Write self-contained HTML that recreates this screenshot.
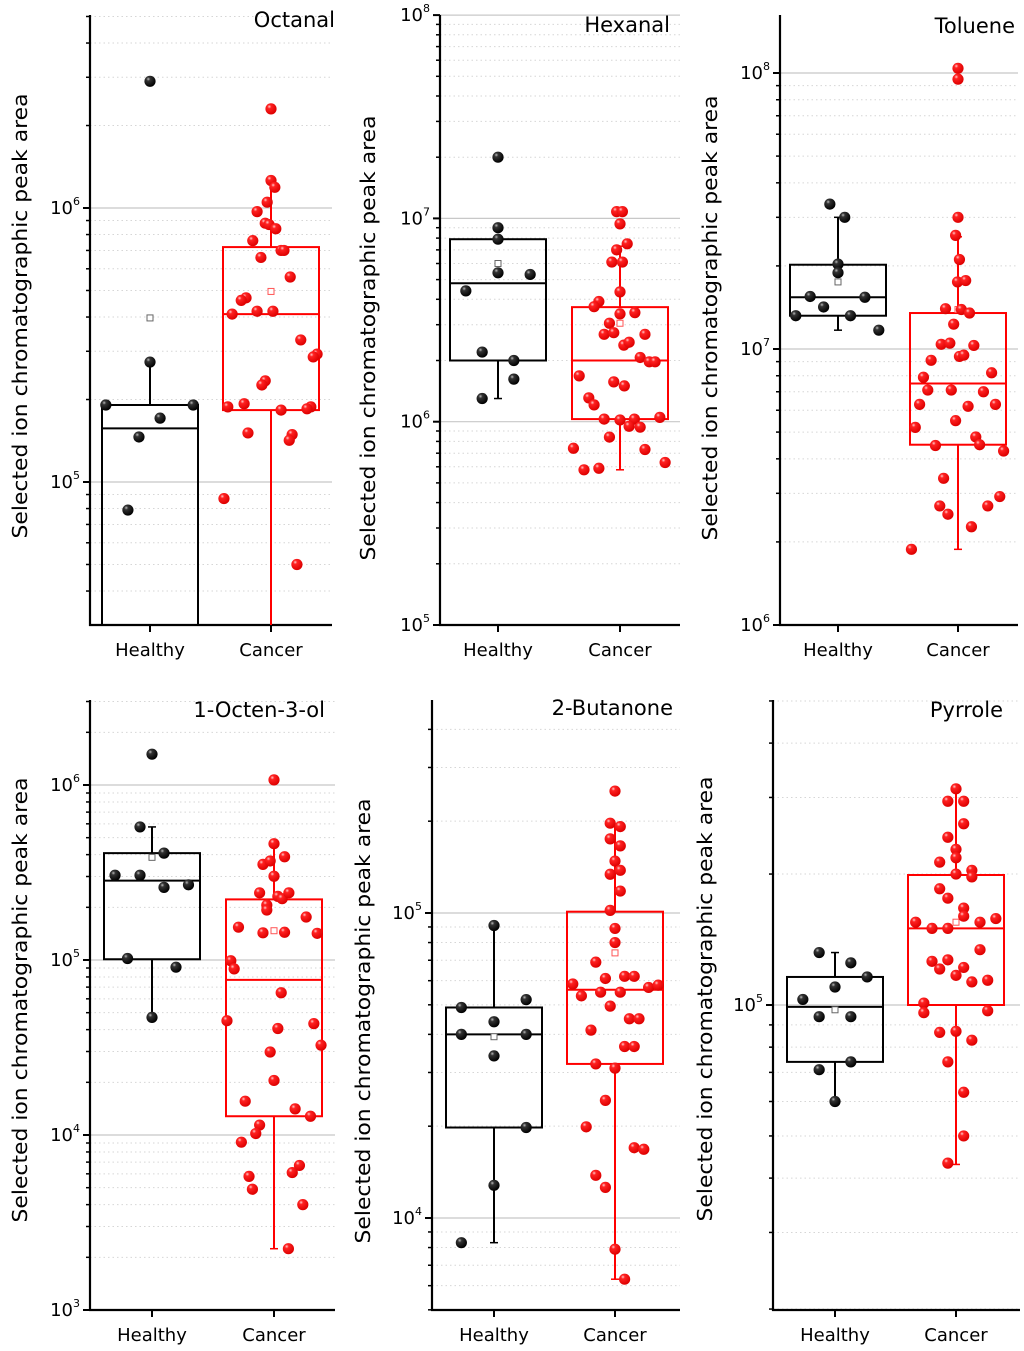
<!DOCTYPE html>
<html><head><meta charset="utf-8"><title>Selected ion chromatographic peak areas</title>
<style>
html,body{margin:0;padding:0;background:#fff;}
svg{display:block;font-family:"DejaVu Sans","Liberation Sans",sans-serif;}
</style></head>
<body>
<svg id="chart" width="1024" height="1351" viewBox="0 0 1024 1351" xmlns="http://www.w3.org/2000/svg">
<defs>
<radialGradient id="gBlack" cx="0.35" cy="0.3" r="0.7"><stop offset="0" stop-color="#bbb"/><stop offset="0.25" stop-color="#333"/><stop offset="1" stop-color="#000"/></radialGradient>
<radialGradient id="gRed" cx="0.35" cy="0.3" r="0.7"><stop offset="0" stop-color="#fcc"/><stop offset="0.25" stop-color="#f22"/><stop offset="1" stop-color="#d00"/></radialGradient>
</defs>
</svg>
<script>
// ---------- data (peak areas) ----------
const categories = ["Healthy", "Cancer"];
const panelTitles = ["Octanal", "Hexanal", "Toluene", "1-Octen-3-ol", "2-Butanone", "Pyrrole"];

// Octanal
const octanalHealthy = [2.9e6,2.74e5,1.91e5,1.91e5,1.71e5,1.46e5,7.9e4];
const octanalHealthyJitter = [0,0,-0.92,0.9,0.21,-0.23,-0.46];
const octanalCancer = [2.3e6,1.26e6,1.19e6,1.05e6,9.7e5,8.8e5,8.7e5,8.4e5,7.6e5,7.0e5,7.0e5,6.6e5,5.6e5,4.7e5,4.6e5,4.2e5,4.1e5,4.2e5,3.3e5,2.93e5,2.86e5,2.34e5,2.26e5,1.88e5,1.93e5,1.83e5,1.88e5,1.85e5,1.51e5,1.49e5,1.42e5,8.7e4,5.0e4];
const octanalCancerJitter = [0,0,.08,-.08,-.29,-.12,-.04,.1,-.38,.21,.27,-.21,.4,-.52,-.62,-.29,-.81,.04,.62,.96,.88,-.12,-.19,-.9,-.56,.21,.83,.75,-.48,.44,.38,-.98,.54];
// box stats: [whiskerLow, q1, median, q3, whiskerHigh, mean]
const octanalHealthyBox = [2.0e4,2.0e4,1.57e5,1.91e5,2.74e5,3.97e5];
const octanalCancerBox = [2.0e4,1.83e5,4.1e5,7.2e5,1.23e6,4.96e5];

// Hexanal
const hexanalHealthy = [2.0e7,9.0e6,7.9e6,5.4e6,5.3e6,4.4e6,2.2e6,2.0e6,1.62e6,1.30e6];
const hexanalHealthyJitter = [0,0,0,0,.67,-.67,-.33,.33,.33,-.33];
const hexanalCancer = [1.08e7,1.08e7,9.4e6,7.5e6,7.0e6,6.1e6,6.1e6,4.35e6,3.9e6,3.68e6,3.39e6,3.44e6,3.05e6,2.69e6,2.74e6,2.69e6,2.38e6,2.46e6,2.07e6,1.97e6,1.97e6,1.68e6,1.57e6,1.50e6,1.31e6,1.21e6,1.03e6,1.02e6,1.03e6,1.05e6,9.5e5,9.4e5,8.4e5,7.4e5,7.3e5,6.3e5,5.8e5,5.9e5];
const hexanalCancerJitter = [-.07,.05,0,.15,-.07,-.17,.05,0,-.44,-.54,0,.31,-.22,-.33,-.13,.52,.08,.19,.42,.61,.73,-.85,-.13,.09,-.65,-.54,-.33,0,.3,.83,.19,.42,-.22,-.97,.52,.94,-.75,-.44];
const hexanalHealthyBox = [1.30e6,2.0e6,4.8e6,7.9e6,7.9e6,6.0e6];
const hexanalCancerBox = [5.8e5,1.03e6,2.0e6,3.66e6,7.3e6,3.05e6];

// Toluene
const tolueneHealthy = [3.35e7,3.0e7,2.03e7,1.89e7,1.55e7,1.54e7,1.42e7,1.32e7,1.32e7,1.17e7];
const tolueneHealthyJitter = [-.17,.14,0,0,-.58,.56,-.3,-.88,.26,.85];
const tolueneCancer = [1.04e8,9.5e7,3.0e7,2.58e7,2.11e7,1.75e7,1.77e7,1.40e7,1.39e7,1.35e7,1.23e7,1.04e7,1.05e7,1.03e7,9.1e6,9.4e6,9.5e6,8.2e6,7.9e6,7.1e6,7.1e6,7.0e6,6.3e6,6.2e6,6.3e6,5.5e6,5.2e6,4.8e6,4.5e6,4.47e6,4.27e6,3.4e6,2.7e6,2.52e6,2.7e6,2.92e6,2.27e6,1.88e6];
const tolueneCancerJitter = [0,0,0,-.05,.03,-.01,.16,-.26,.07,.24,-.09,-.35,-.17,.33,-.56,.03,.12,.7,-.72,-.63,-.14,.53,-.8,.21,.78,-.05,-.89,.37,.45,-.47,.95,-.3,-.38,-.21,.62,.87,.28,-.97];
const tolueneHealthyBox = [1.17e7,1.32e7,1.54e7,2.02e7,3.0e7,1.75e7];
const tolueneCancerBox = [1.88e6,4.5e6,7.5e6,1.35e7,2.55e7,1.39e7];

// 1-Octen-3-ol
const octenolHealthy = [1.50e6,5.76e5,4.08e5,3.05e5,3.05e5,2.6e5,2.69e5,1.02e5,9.1e4,4.7e4];
const octenolHealthyJitter = [0,-.25,.25,-.77,-.25,.25,.76,-.51,.5,0];
const octenolCancer = [1.07e6,4.62e5,3.52e5,3.68e5,3.89e5,3.01e5,2.42e5,2.31e5,2.24e5,2.42e5,2.06e5,1.93e5,1.76e5,1.54e5,1.43e5,1.44e5,1.42e5,9.9e4,8.9e4,6.5e4,4.5e4,4.06e4,4.33e4,3.26e4,2.98e4,2.05e4,1.56e4,1.41e4,1.28e4,1.14e4,1.02e4,9.1e3,6.7e3,6.1e3,5.8e3,4.9e3,4.0e3,2.24e3];
const octenolCancerJitter = [0,0,-.23,-.08,.22,0,-.3,.08,.17,.31,-.15,-.15,.67,-.74,-.23,.22,.9,-.9,-.83,.15,-.98,.08,.83,.98,-.08,0,-.6,.44,.76,-.3,-.38,-.68,.53,.38,-.52,-.45,.6,.3];
const octenolHealthyBox = [4.7e4,1.01e5,2.84e5,4.08e5,5.76e5,3.86e5];
const octenolCancerBox = [2.24e3,1.28e4,7.7e4,2.22e5,4.62e5,1.47e5];

// 2-Butanone
const butanoneHealthy = [9.1e4,5.2e4,4.9e4,4.4e4,4.0e4,4.0e4,3.4e4,1.98e4,1.28e4,8.3e3];
const butanoneHealthyJitter = [0,.67,-.68,0,-.68,.67,0,.67,0,-.68];
const butanoneCancer = [2.51e5,1.97e5,1.92e5,1.75e5,1.66e5,1.48e5,1.34e5,1.38e5,1.18e5,1.02e5,8.9e4,8.0e4,6.9e4,6.1e4,6.2e4,6.2e4,5.85e4,5.35e4,5.5e4,5.5e4,5.7e4,5.8e4,4.95e4,4.5e4,4.5e4,4.13e4,3.65e4,3.65e4,3.2e4,3.1e4,2.43e4,1.99e4,1.70e4,1.68e4,1.38e4,1.26e4,7.9e3,6.3e3];
const butanoneCancerJitter = [0,-.1,.11,-.1,.11,0,-.1,.11,.11,-.1,0,0,-.4,-.2,.2,.4,-.88,-.7,-.3,.11,.7,.9,-.1,.3,.5,-.5,.2,.4,-.4,0,-.2,-.6,.4,.6,-.4,-.2,0,.2];
const butanoneHealthyBox = [8.3e3,1.98e4,4.0e4,4.9e4,9.1e4,3.93e4];
const butanoneCancerBox = [6.3e3,3.2e4,5.6e4,1.01e5,1.92e5,7.4e4];

// Pyrrole
const pyrroleHealthy = [1.32e5,1.25e5,1.16e5,1.10e5,1.03e5,9.4e4,9.4e4,7.4e4,7.1e4,6.0e4];
const pyrroleHealthyJitter = [-.33,.33,.67,0,-.67,-.33,.33,.33,-.33,0];
const pyrroleCancer = [3.14e5,2.94e5,2.94e5,2.61e5,2.43e5,2.28e5,2.18e5,2.13e5,2.0e5,2.04e5,1.97e5,1.85e5,1.76e5,1.67e5,1.60e5,1.55e5,1.50e5,1.50e5,1.55e5,1.58e5,1.34e5,1.26e5,1.27e5,1.21e5,1.22e5,1.17e5,1.13e5,1.14e5,1.01e5,9.6e4,9.7e4,8.65e4,8.7e4,8.3e4,7.4e4,6.3e4,5.0e4,4.33e4];
const pyrroleCancerJitter = [0,-.17,.16,.16,-.17,0,0,-.34,0,.33,.33,-.34,-.17,.16,.16,-.84,-.5,-.17,.5,.83,.5,-.5,-.17,-.34,.16,0,.33,.66,-.67,-.67,.66,-.34,0,.33,-.17,.16,.16,-.17];
const pyrroleHealthyBox = [6.0e4,7.4e4,9.9e4,1.16e5,1.32e5,9.75e4];
const pyrroleCancerBox = [4.3e4,1.0e5,1.5e5,1.99e5,3.14e5,1.55e5];

// ---------- layout (positions, not data) ----------
const layouts = [
 {ax:90, right:332, top:15, bottom:625, refY:208, refE:6, dec:274, cx:[150,271], ttx:335, tty:27, ytx:20, yty:316},
 {ax:440, right:680, top:15, bottom:625, refY:625, refE:5, dec:203.3, cx:[498,620], ttx:670, tty:32, ytx:368, yty:338},
 {ax:780, right:1018, top:15, bottom:625, refY:349, refE:7, dec:276, cx:[838,958], ttx:1015, tty:33, ytx:710, yty:318},
 {ax:90, right:335, top:700, bottom:1310, refY:785, refE:6, dec:175, cx:[152,274], ttx:325, tty:717, ytx:20, yty:1000},
 {ax:432, right:680, top:700, bottom:1310, refY:913, refE:5, dec:305, cx:[494,615], ttx:673, tty:715, ytx:363, yty:1021},
 {ax:773, right:1020, top:700, bottom:1310, refY:1005, refE:5, dec:435, cx:[835,956], ttx:1003, tty:717, ytx:705, yty:999}
];
const panelData = [
 [[octanalHealthy,octanalHealthyJitter,octanalHealthyBox],[octanalCancer,octanalCancerJitter,octanalCancerBox]],
 [[hexanalHealthy,hexanalHealthyJitter,hexanalHealthyBox],[hexanalCancer,hexanalCancerJitter,hexanalCancerBox]],
 [[tolueneHealthy,tolueneHealthyJitter,tolueneHealthyBox],[tolueneCancer,tolueneCancerJitter,tolueneCancerBox]],
 [[octenolHealthy,octenolHealthyJitter,octenolHealthyBox],[octenolCancer,octenolCancerJitter,octenolCancerBox]],
 [[butanoneHealthy,butanoneHealthyJitter,butanoneHealthyBox],[butanoneCancer,butanoneCancerJitter,butanoneCancerBox]],
 [[pyrroleHealthy,pyrroleHealthyJitter,pyrroleHealthyBox],[pyrroleCancer,pyrroleCancerJitter,pyrroleCancerBox]]
];

const NS = "http://www.w3.org/2000/svg";
const svg = document.getElementById("chart");
function mk(tag, attrs, parent){ const e=document.createElementNS(NS,tag); for(const k in attrs) e.setAttribute(k,attrs[k]); (parent||svg).appendChild(e); return e; }

layouts.forEach((L, p) => {
  const g = mk("g", {});
  
  
  const yOf = v => L.refY - (Math.log10(v) - L.refE) * L.dec;
  const eTop = L.refE + (L.refY - L.top) / L.dec;
  const eBot = L.refE - (L.bottom - L.refY) / L.dec;
  const clipId = "clip" + p;
  const cp = mk("clipPath", {id: clipId}, g);
  mk("rect", {x: L.ax, y: L.top, width: L.right - L.ax, height: L.bottom - L.top}, cp);

  for (let d = Math.floor(eBot); d <= Math.ceil(eTop); d++) {
    for (let m = 1; m <= 9; m++) {
      const e = d + Math.log10(m);
      if (e < eBot - 1e-6 || e > eTop + 1e-6) continue;
      const y = L.refY - (e - L.refE) * L.dec;
      if (m === 1) {
        const gl = mk("line", {x1:L.ax, x2:L.right, y1:y, y2:y, stroke:"#c8c8c8", "stroke-width":1.2}, g);
        
        
        mk("line", {x1:L.ax-7, x2:L.ax, y1:y, y2:y, stroke:"#000", "stroke-width":2}, g);
        const t = mk("text", {x:L.ax-10, y:y+6, "text-anchor":"end", "font-size":18, fill:"#000"}, g);
        
        
        t.appendChild(document.createTextNode("10"));
        const s = mk("tspan", {dy:-9, "font-size":11}, t);
        s.textContent = String(d);
      } else {
        const gl = mk("line", {x1:L.ax, x2:L.right, y1:y, y2:y, stroke:"#d6d6d6", "stroke-width":1, "stroke-dasharray":"1.5,3"}, g);
        
        
        mk("line", {x1:L.ax-4, x2:L.ax, y1:y, y2:y, stroke:"#000", "stroke-width":1.5}, g);
      }
    }
  }
  const ya = mk("line", {x1:L.ax, x2:L.ax, y1:L.top, y2:L.bottom+1, stroke:"#000", "stroke-width":2.2}, g);
  
  
  const xa = mk("line", {x1:L.ax-1, x2:L.right, y1:L.bottom, y2:L.bottom, stroke:"#000", "stroke-width":2.2}, g);
  
  
  const ytitle = mk("text", {x:0, y:0, transform:`translate(${L.ytx+7},${L.yty}) rotate(-90)`, "text-anchor":"middle", "font-size":20, textLength:445, lengthAdjust:"spacingAndGlyphs", fill:"#000"}, g);
  
  
  ytitle.textContent = "Selected ion chromatographic peak area";
  const title = mk("text", {x:L.ttx, y:L.tty, "text-anchor":"end", "font-size":21, fill:"#000"}, g);
  
  
  title.textContent = panelTitles[p];

  categories.forEach((cat, c) => {
    const cx = L.cx[c];
    mk("line", {x1:cx, x2:cx, y1:L.bottom, y2:L.bottom+7, stroke:"#000", "stroke-width":2}, g);
    const xl = mk("text", {x:cx, y:L.bottom+31, "text-anchor":"middle", "font-size":18, fill:"#000"}, g);
    
    
    xl.textContent = cat;

    const [vals, jit, box] = panelData[p][c];
    const col = c === 0 ? "#000" : "#f00";
    const hw = 48;
    const bg = mk("g", {"clip-path":`url(#${clipId})`}, g);
    
    
    const yWL = yOf(box[0]), yQ1 = yOf(box[1]), yMed = yOf(box[2]), yQ3 = yOf(box[3]), yWH = yOf(box[4]), yMean = yOf(box[5]);
    mk("line", {x1:cx, x2:cx, y1:yQ1, y2:yWL, stroke:col, "stroke-width":2}, bg);
    mk("line", {x1:cx, x2:cx, y1:yQ3, y2:yWH, stroke:col, "stroke-width":2}, bg);
    mk("line", {x1:cx-4, x2:cx+4, y1:yWL, y2:yWL, stroke:col, "stroke-width":1.5}, bg);
    mk("line", {x1:cx-4, x2:cx+4, y1:yWH, y2:yWH, stroke:col, "stroke-width":1.5}, bg);
    mk("rect", {x:cx-hw, y:yQ3, width:2*hw, height:yQ1-yQ3, fill:"none", stroke:col, "stroke-width":2}, bg);
    mk("line", {x1:cx-hw, x2:cx+hw, y1:yMed, y2:yMed, stroke:col, "stroke-width":2}, bg);
    const mean = mk("rect", {x:cx-3, y:yMean-3, width:6, height:6, fill:"#fff", stroke: c===0 ? "#666" : "#f55", "stroke-width":1}, bg);
    
    

    vals.forEach((v, i) => {
      const y = yOf(v);
      if (y < L.top - 6 || y > L.bottom + 6) return;
      const pt = mk("circle", {cx: cx + jit[i] * hw, cy: y, r: 5.6, fill: c===0 ? "url(#gBlack)" : "url(#gRed)"}, g);
      
      
    });
  });
});
</script>
</body></html>
